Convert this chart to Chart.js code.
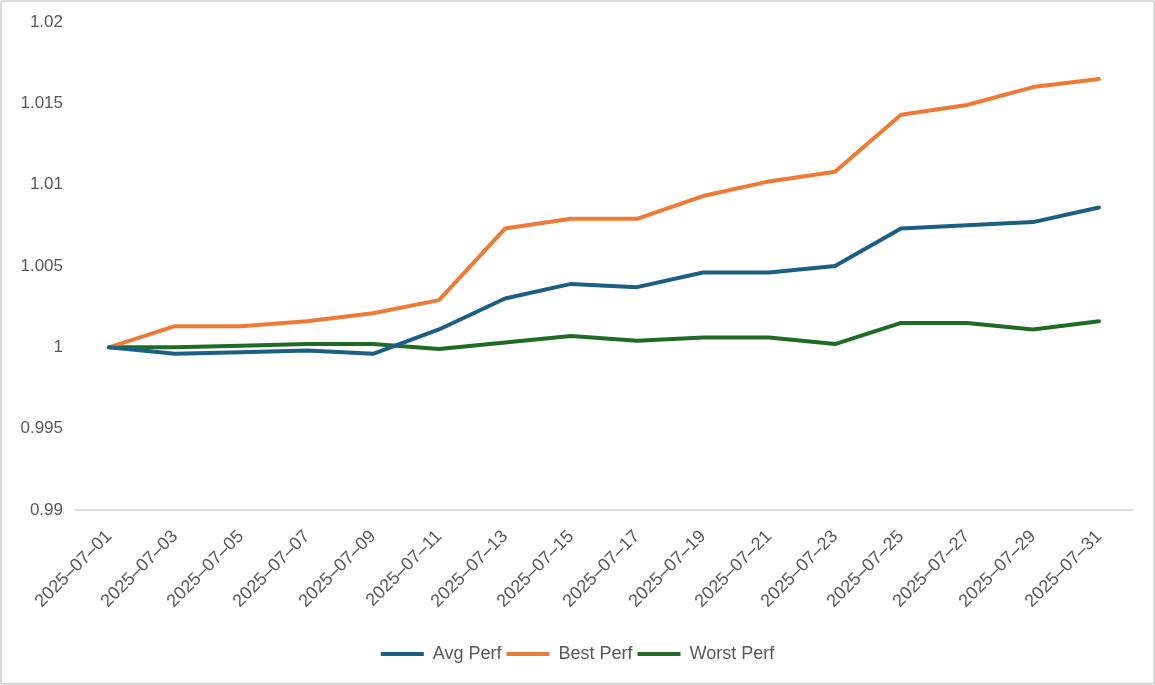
<!DOCTYPE html>
<html>
<head>
<meta charset="utf-8">
<script src="https://cdn.jsdelivr.net/npm/chart.js@4/dist/chart.umd.min.js"></script>
<style>
  html, body { margin: 0; padding: 0; background: #fff; }
  #wrap { position: absolute; left: 0; top: 0; width: 1155px; height: 685px; box-sizing: border-box; border: 2px solid #d9d9d9; border-radius: 3px; }
  #c { display: block; }
</style>
</head>
<body>
<div id="wrap"><canvas id="c" width="1151" height="681"></canvas></div>
<script>
const dates = ["2025-07-01","2025-07-03","2025-07-05","2025-07-07","2025-07-09","2025-07-11","2025-07-13","2025-07-15","2025-07-17","2025-07-19","2025-07-21","2025-07-23","2025-07-25","2025-07-27","2025-07-29","2025-07-31"];
const avgPerf   = [1.0000, 0.9996, 0.9997, 0.9998, 0.9996, 1.0011, 1.0030, 1.0039, 1.0037, 1.0046, 1.0046, 1.0050, 1.0073, 1.0075, 1.0077, 1.0086];
const bestPerf  = [1.0000, 1.0013, 1.0013, 1.0016, 1.0021, 1.0029, 1.0073, 1.0079, 1.0079, 1.0093, 1.0102, 1.0108, 1.0143, 1.0149, 1.0160, 1.0165];
const worstPerf = [1.0000, 1.0000, 1.0001, 1.0002, 1.0002, 0.9999, 1.0003, 1.0007, 1.0004, 1.0006, 1.0006, 1.0002, 1.0015, 1.0015, 1.0011, 1.0016];
const yTickValues = [0.99, 0.995, 1, 1.005, 1.01, 1.015, 1.02];
const seriesNames = ["Avg Perf", "Best Perf", "Worst Perf"];

const colors = ["#1b5f84", "#ee7a35", "#1e6b24"];
const FONT = "'Liberation Sans', Arial, sans-serif";
const TXT = "#595959";

function ds(label, data, color) {
  return {
    label, data, yAxisID: 'y',
    borderColor: color, backgroundColor: color,
    borderWidth: 4, pointRadius: 0, pointHoverRadius: 0,
    tension: 0, borderJoinStyle: 'round', borderCapStyle: 'round', fill: false
  };
}

new Chart(document.getElementById('c'), {
  type: 'line',
  data: {
    labels: dates,
    datasets: [
      ds(seriesNames[0], avgPerf, colors[0]),
      ds(seriesNames[1], bestPerf, colors[1]),
      ds(seriesNames[2], worstPerf, colors[2])
    ]
  },
  options: {
    responsive: false,
    animation: false,
    events: [],
    layout: { padding: { left: 0, right: 0, top: 20, bottom: 10 } },
    plugins: {
      tooltip: { enabled: false },
      legend: {
        position: 'bottom',
        labels: {
          color: TXT,
          font: { family: FONT, size: 18 },
          boxWidth: 43, boxHeight: 4, padding: 5,
          generateLabels(chart) {
            return Chart.defaults.plugins.legend.labels.generateLabels(chart)
              .map(it => Object.assign(it, { lineWidth: 0 }));
          }
        }
      }
    },
    scales: {
      x: {
        offset: true,
        grid: { display: false, drawTicks: false },
        border: { display: true, color: '#d9d9d9', width: 2 },
        ticks: {
          color: TXT, font: { family: FONT, size: 18 },
          autoSkip: false, maxRotation: 45, minRotation: 45, padding: 16,
          callback(v) { return this.getLabelForValue(v).replace(/-/g, '\u2013'); }
        },
        afterFit(scale) { scale.height = 130; scale.paddingLeft = 0; scale.paddingRight = 0; }
      },
      y: {
        min: 0.99, max: 1.02,
        grid: { display: false, drawTicks: false },
        border: { display: false },
        afterBuildTicks(scale) { scale.ticks = yTickValues.map(v => ({ value: v })); },
        ticks: {
          color: TXT, font: { family: FONT, size: 17 }, padding: 13,
          callback: (v) => String(Number(Number(v).toFixed(3)))
        },
        afterFit(scale) { scale.width = 74; scale.paddingTop = 10; scale.paddingBottom = 0; }
      },
      yRight: {
        position: 'right',
        display: true,
        grid: { display: false, drawTicks: false },
        border: { display: false },
        ticks: { display: false },
        afterFit(scale) { scale.width = 21; scale.paddingTop = 0; scale.paddingBottom = 0; }
      }
    }
  }
});
</script>
</body>
</html>
